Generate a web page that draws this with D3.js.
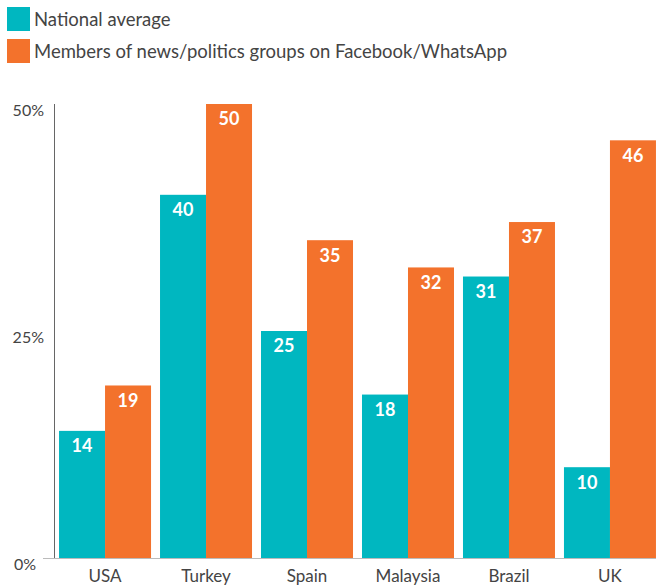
<!DOCTYPE html>
<html>
<head>
  <meta charset="utf-8">
  <title>D3.js Visualization</title>
  <script src="https://d3js.org/d3.v7.min.js"></script>
  <style>
    html, body { margin: 0; height: 100%; overflow: hidden; background: #fff; }
    #chart { width: 656px; height: 588px; }
    text { font-family: Lato, "Open Sans", sans-serif; }
  </style>
</head>
<body>
  <div id="chart"></div>
  <script>
    const countries = ['USA', 'Turkey', 'Spain', 'Malaysia', 'Brazil', 'UK'];
    const seriesNames = ['National average', 'Members of news/politics groups on Facebook/WhatsApp'];
    const nationalAvg = [14, 40, 25, 18, 31, 10];
    const groupMembers = [19, 50, 35, 32, 37, 46];
    const yTicks = [0, 25, 50];
    const colors = ['#00b7c0', '#f3722c'];

    const W = 656, H = 588;
    const svg = d3.select('#chart')
      .append('svg')
      .attr('width', W)
      .attr('height', H);

    // Legend
    const legend = svg.append('g');
    seriesNames.forEach((name, i) => {
      legend.append('rect')
        .attr('x', 7).attr('y', 7 + i * 32)
        .attr('width', 23).attr('height', 24)
        .attr('fill', colors[i]);
      legend.append('text')
        .attr('x', 34).attr('y', 20 + i * 32)
        .attr('dy', '0.35em')
        .attr('font-size', 18.5)
        .attr('fill', '#444')
        .text(name);
    });

    // Scales
    const x0 = d3.scaleBand().domain(countries).range([55, 660]).paddingInner(0.089).paddingOuter(0.04);
    const x1 = d3.scaleBand().domain([0, 1]).range([0, x0.bandwidth()]);
    const y = d3.scaleLinear().domain([0, 50]).range([558, 104]);

    // Bars
    const rows = countries.map((c, i) => ({ country: c, values: [nationalAvg[i], groupMembers[i]] }));
    const groups = svg.append('g').selectAll('g')
      .data(rows)
      .join('g')
      .attr('transform', d => `translate(${x0(d.country)},0)`);

    groups.selectAll('rect')
      .data(d => d.values.map((v, k) => ({ k, v })))
      .join('rect')
      .attr('x', d => x1(d.k))
      .attr('y', d => y(d.v))
      .attr('width', x1.bandwidth())
      .attr('height', d => y(0) - y(d.v))
      .attr('fill', d => colors[d.k]);

    groups.selectAll('text.val')
      .data(d => d.values.map((v, k) => ({ k, v })))
      .join('text')
      .attr('class', 'val')
      .attr('x', d => x1(d.k) + x1.bandwidth() / 2)
      .attr('y', d => y(d.v) + 15)
      .attr('dy', '0.35em')
      .attr('text-anchor', 'middle')
      .attr('font-size', 18)
      .attr('font-weight', 700)
      .attr('fill', '#fff')
      .text(d => d.v);

    // Y axis
    svg.append('line')
      .attr('x1', 54.5).attr('x2', 54.5)
      .attr('y1', y(50)).attr('y2', y(0))
      .attr('stroke', '#666');

    svg.append('g').selectAll('text')
      .data(yTicks)
      .join('text')
      .attr('x', d => d === 0 ? 36 : 44)
      .attr('y', d => y(d) + 6)
      .attr('dy', '0.35em')
      .attr('text-anchor', 'end')
      .attr('font-size', 16)
      .attr('fill', '#444')
      .text(d => d + '%');

    // X axis
    svg.append('line')
      .attr('x1', 43).attr('x2', W)
      .attr('y1', y(0) + 0.5).attr('y2', y(0) + 0.5)
      .attr('stroke', '#bbb');

    svg.append('g').selectAll('text')
      .data(countries)
      .join('text')
      .attr('x', d => x0(d) + x0.bandwidth() / 2)
      .attr('y', 576)
      .attr('dy', '0.35em')
      .attr('text-anchor', 'middle')
      .attr('font-size', 17)
      .attr('fill', '#444')
      .text(d => d);
  </script>
</body>
</html>
